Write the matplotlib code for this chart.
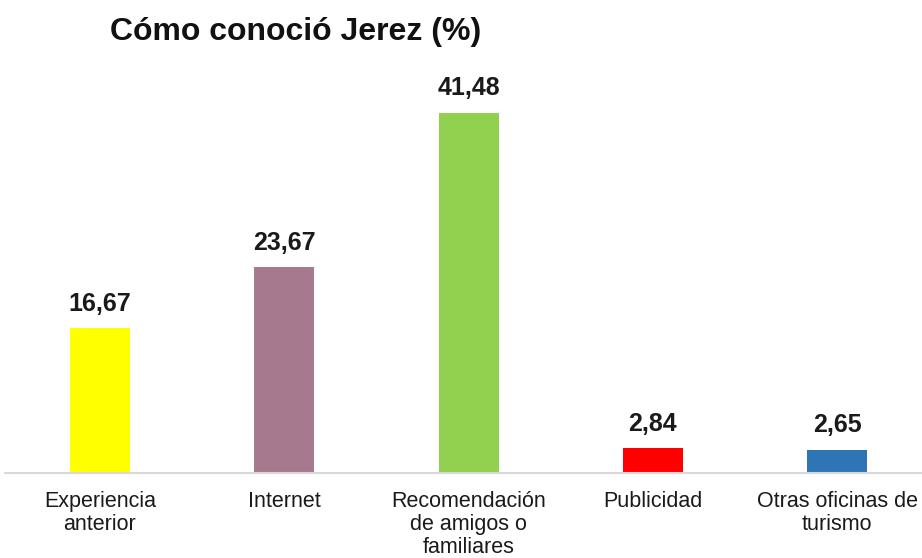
import matplotlib
matplotlib.use("Agg")
import matplotlib.pyplot as plt

# datos del gráfico
categorias = ["Experiencia\nanterior", "Internet", "Recomendación\nde amigos o\nfamiliares",
              "Publicidad", "Otras oficinas de\nturismo"]
valores = [16.67, 23.67, 41.48, 2.84, 2.65]
colores = ["#FFFF00", "#A6798F", "#92D050", "#FF0000", "#2E75B6"]

plt.rcParams['font.family'] = ['Liberation Sans', 'DejaVu Sans']

fig = plt.figure(figsize=(9.22, 5.58), dpi=100)
ax = fig.add_axes([5 / 922, 1 - 473 / 558, 917 / 922, (473 - 82) / 558])

x = list(range(len(valores)))
bars = ax.bar(x, valores, width=0.325, color=colores)

for b, v in zip(bars, valores):
    etiqueta = f"{v:.2f}".replace(".", ",")
    ax.annotate(etiqueta, (b.get_x() + b.get_width() / 2, v), xytext=(0, 9),
                textcoords="offset points", ha="center", va="bottom",
                fontsize=18, fontweight="bold", color="#1a1a1a")

ax.set_xlim(-0.515, 4.46)
ax.set_ylim(0, 45)
ax.set_yticks([])
ax.set_xticks(x)
ax.set_xticklabels(categorias, fontsize=15.5, color="#1a1a1a", linespacing=1.12)
ax.tick_params(axis="x", length=0, pad=13)
for s in ["top", "right", "left"]:
    ax.spines[s].set_visible(False)
ax.spines["bottom"].set_color("#D9D9D9")
ax.spines["bottom"].set_linewidth(1.5)

fig.text(110 / 922, 1 - 32 / 558, "Cómo conoció Jerez (%)", fontsize=23,
         fontweight="bold", va="center", ha="left", color="#111111")

fig.savefig("out.png", dpi=100)
